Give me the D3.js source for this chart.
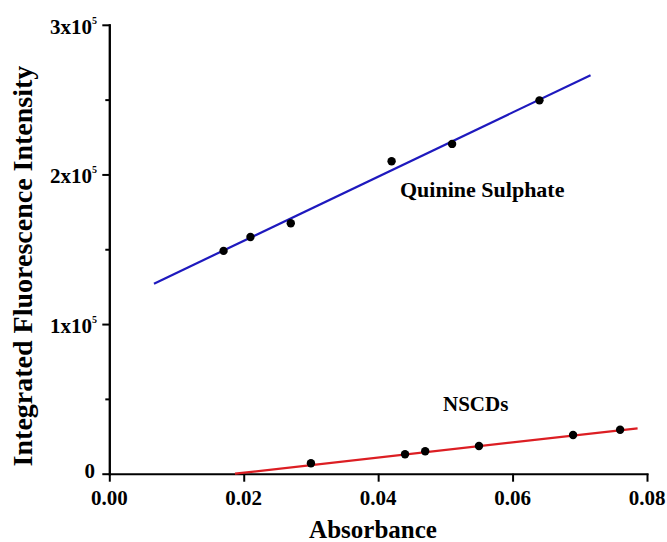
<!DOCTYPE html>
<html>
<head>
<meta charset="utf-8">
<style>
body{
  margin: 0;
  background-color: white;
}
svg{
  display: block;
  font-family: "Liberation Serif", "Times New Roman", serif;
  font-weight: bold;
}
.axis path, .axis line{
  stroke: black;
  stroke-width: 2px;
}
.fit{
  fill: none;
  stroke-width: 2.2px;
}
</style>
</head>
<body>
<script src="https://cdn.jsdelivr.net/npm/d3@7"></script>
<script>
  var WIDTH = 667;
  var HEIGHT = 542;

  // Quinine sulphate (reference)
  var qsAbs = [0.017, 0.021, 0.027, 0.042, 0.051, 0.064];
  var qsInt = [148900, 158200, 167400, 208800, 220400, 249500];
  var qsFitAbs = [0.00665, 0.0716];
  var qsFitInt = [127000, 266300];

  // NSCDs (sample)
  var nsAbs = [0.030, 0.044, 0.047, 0.055, 0.069, 0.076];
  var nsInt = [6950, 12970, 14970, 18520, 25870, 29410];
  var nsFitAbs = [0.0187, 0.0786];
  var nsFitInt = [0, 30350];

  var xTicks = [0, 0.02, 0.04, 0.06, 0.08];
  var xTickLabels = ["0.00", "0.02", "0.04", "0.06", "0.08"];
  var yTicks = [0, 100000, 200000, 300000];
  var yTickBase = ["0", "1x10", "2x10", "3x10"];
  var yTickExp = ["", "5", "5", "5"];
  var yMinorTicks = [50000, 150000, 250000];

  var xScale = d3.scaleLinear()
    .domain([0, 0.08])
    .range([109.3, 647]);

  var yScale = d3.scaleLinear()
    .domain([0, 300000])
    .range([473.7, 24.8]);

  var svg = d3.select("body").append("svg")
    .attr("width", WIDTH)
    .attr("height", HEIGHT);

  var zip = (a, b) => a.map((d, i) => [d, b[i]]);

  // axes
  var xAxis = d3.axisBottom(xScale)
    .tickValues(xTicks)
    .tickSize(8)
    .tickSizeOuter(0)
    .tickFormat("");

  var yAxis = d3.axisLeft(yScale)
    .tickValues(yTicks)
    .tickSize(7)
    .tickSizeOuter(0)
    .tickFormat("");

  var yMinor = d3.axisLeft(yScale)
    .tickValues(yMinorTicks)
    .tickSize(4)
    .tickSizeOuter(0)
    .tickFormat("");

  svg.append("g")
    .attr("class", "axis")
    .attr("transform", `translate(0,${yScale(0)})`)
    .call(xAxis);

  svg.append("g")
    .attr("class", "axis")
    .attr("transform", `translate(${xScale(0)},0)`)
    .call(yAxis);

  svg.append("g")
    .attr("class", "axis")
    .attr("transform", `translate(${xScale(0)},0)`)
    .call(yMinor);

  svg.selectAll("path.domain").attr("stroke-linecap", "square");

  // tick labels
  svg.selectAll("text.xlab")
    .data(xTicks)
    .enter()
    .append("text")
      .attr("class", "xlab")
      .attr("x", (d) => xScale(d))
      .attr("y", yScale(0) + 31)
      .attr("text-anchor", "middle")
      .style("font-size", "21px")
      .text((d, i) => xTickLabels[i]);

  var ylab = svg.selectAll("text.ylab")
    .data(yTicks)
    .enter()
    .append("text")
      .attr("class", "ylab")
      .attr("x", (d, i) => yTickExp[i] ? 97 : 95)
      .attr("y", (d, i) => yScale(d) + (yTickExp[i] ? 9 : 4))
      .attr("text-anchor", "end")
      .style("font-size", "21px");

  ylab.append("tspan")
    .text((d, i) => yTickBase[i]);

  ylab.append("tspan")
    .attr("dy", -10)
    .style("font-size", "10px")
    .text((d, i) => yTickExp[i]);

  // axis titles
  svg.append("text")
    .attr("x", 373)
    .attr("y", 538)
    .attr("text-anchor", "middle")
    .style("font-size", "25px")
    .text("Absorbance");

  svg.append("text")
    .attr("transform", "translate(32,266) rotate(-90)")
    .attr("text-anchor", "middle")
    .style("font-size", "28px")
    .text("Integrated Fluorescence Intensity");

  // fit lines
  var fitLine = d3.line()
    .x((d) => xScale(d[0]))
    .y((d) => yScale(d[1]));

  svg.append("path")
    .attr("class", "fit")
    .attr("stroke", "rgb(30,25,190)")
    .attr("d", fitLine(zip(qsFitAbs, qsFitInt)));

  svg.append("path")
    .attr("class", "fit")
    .attr("stroke", "rgb(220,30,35)")
    .attr("d", fitLine(zip(nsFitAbs, nsFitInt)));

  // points
  svg.selectAll("circle.qs")
    .data(zip(qsAbs, qsInt))
    .enter()
    .append("circle")
      .attr("class", "qs")
      .attr("cx", (d) => xScale(d[0]))
      .attr("cy", (d) => yScale(d[1]))
      .attr("r", 4.2)
      .attr("fill", "black");

  svg.selectAll("circle.ns")
    .data(zip(nsAbs, nsInt))
    .enter()
    .append("circle")
      .attr("class", "ns")
      .attr("cx", (d) => xScale(d[0]))
      .attr("cy", (d) => yScale(d[1]))
      .attr("r", 4.2)
      .attr("fill", "black");

  // series labels
  svg.append("text")
    .attr("x", 400)
    .attr("y", 197)
    .style("font-size", "22px")
    .text("Quinine Sulphate");

  svg.append("text")
    .attr("x", 443)
    .attr("y", 410.5)
    .style("font-size", "21px")
    .text("NSCDs");
</script>
</body>
</html>
